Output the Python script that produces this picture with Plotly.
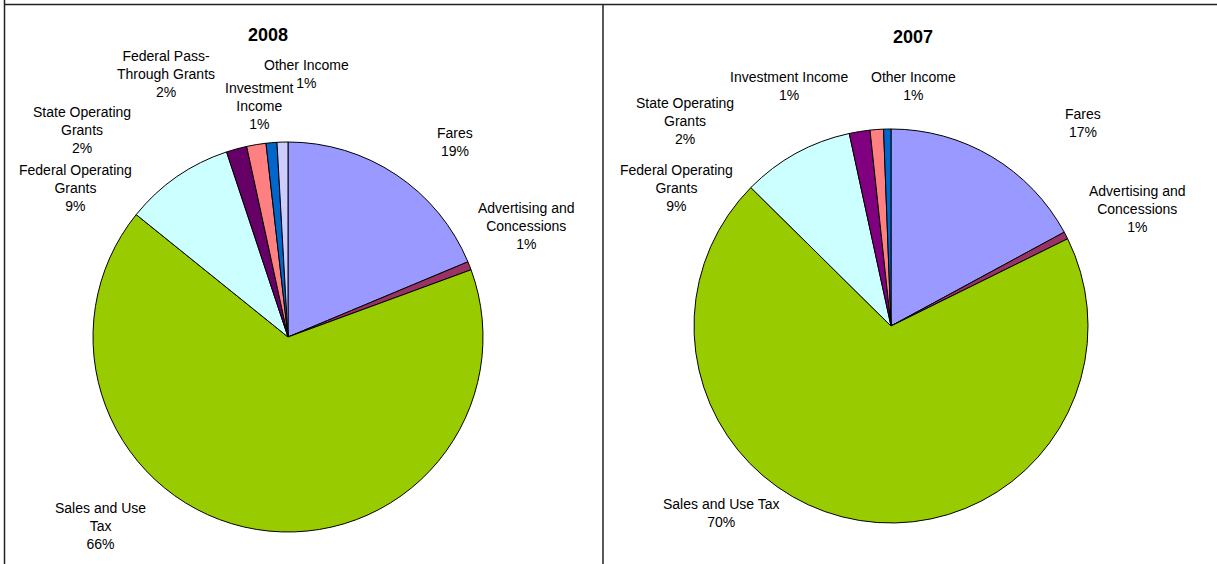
import plotly.graph_objects as go

W, H = 1217, 564

# ---------------- data ----------------
labels_2008 = ["Fares", "Advertising and Concessions", "Sales and Use Tax",
               "Federal Operating Grants", "State Operating Grants",
               "Federal Pass-Through Grants", "Investment Income", "Other Income"]
values_2008 = [18.7, 0.7, 66.4, 9.1, 1.7, 1.6, 0.9, 0.9]
colors_2008 = ["#9999FF", "#993366", "#99CC00", "#CCFFFF", "#660066",
               "#FF8080", "#0066CC", "#CCCCFF"]

labels_2007 = ["Fares", "Advertising and Concessions", "Sales and Use Tax",
               "Federal Operating Grants", "State Operating Grants",
               "Investment Income", "Other Income"]
values_2007 = [17.1, 0.6, 69.7, 9.2, 1.7, 1.1, 0.6]
colors_2007 = ["#9999FF", "#993366", "#99CC00", "#CCFFFF", "#800080",
               "#FF8080", "#0066CC"]

# label text wrapping (display text) for each slice
wrap_2008 = ["Fares", "Advertising and<br>Concessions", "Sales and Use<br>Tax",
             "Federal Operating<br>Grants", "State Operating<br>Grants",
             "Federal Pass-<br>Through Grants", "Investment<br>Income", "Other Income"]
wrap_2007 = ["Fares", "Advertising and<br>Concessions", "Sales and Use Tax",
             "Federal Operating<br>Grants", "State Operating<br>Grants",
             "Investment Income", "Other Income"]

# ---------------- layout helpers (pixel positions) ----------------
pos_2008 = [(455, 142), (526, 226), (100, 526), (75, 188), (82, 130),
            (166, 74), (259, 106), (306, 74)]
pos_2007 = [(1083, 123), (1137, 209), (721, 513), (676, 188), (685, 121),
            (789, 86), (913, 86)]


def px(x):
    return x / W


def py(y):
    return 1 - y / H


def pct(v, total):
    return f"{round(v / total * 100 + 1e-9):d}%"


fig = go.Figure()

# 2008 pie: center (288, 337), r 195
fig.add_trace(go.Pie(
    labels=labels_2008, values=values_2008, sort=False, direction="clockwise",
    rotation=0, textinfo="none", hoverinfo="label+percent",
    marker=dict(colors=colors_2008, line=dict(color="#000000", width=1)),
    domain=dict(x=[px(288 - 195), px(288 + 195)], y=[py(337 + 195), py(337 - 195)]),
    showlegend=False,
))
# 2007 pie: center (891, 326), r 197
fig.add_trace(go.Pie(
    labels=labels_2007, values=values_2007, sort=False, direction="clockwise",
    rotation=0, textinfo="none", hoverinfo="label+percent",
    marker=dict(colors=colors_2007, line=dict(color="#000000", width=1)),
    domain=dict(x=[px(891 - 197), px(891 + 197)], y=[py(326 + 197), py(326 - 197)]),
    showlegend=False,
))

annotations = []
font = dict(family="Liberation Sans, Arial, sans-serif", size=14, color="#000000")
tot08 = sum(values_2008)
tot07 = sum(values_2007)
for t, v, (x, y) in zip(wrap_2008, values_2008, pos_2008):
    annotations.append(dict(x=px(x), y=py(y), xref="paper", yref="paper",
                            text=f"{t}<br>{pct(v, tot08)}", showarrow=False,
                            xanchor="center", yanchor="middle", align="center", font=font))
for t, v, (x, y) in zip(wrap_2007, values_2007, pos_2007):
    annotations.append(dict(x=px(x), y=py(y), xref="paper", yref="paper",
                            text=f"{t}<br>{pct(v, tot07)}", showarrow=False,
                            xanchor="center", yanchor="middle", align="center", font=font))

title_font = dict(family="Liberation Sans, Arial, sans-serif", size=18, color="#000000")
annotations.append(dict(x=px(268), y=py(35), xref="paper", yref="paper", text="<b>2008</b>",
                        showarrow=False, xanchor="center", yanchor="middle", font=title_font))
annotations.append(dict(x=px(913), y=py(37), xref="paper", yref="paper", text="<b>2007</b>",
                        showarrow=False, xanchor="center", yanchor="middle", font=title_font))

line = dict(color="#222222", width=1.5)
shapes = [
    dict(type="line", xref="paper", yref="paper", x0=px(4.5), x1=px(4.5), y0=1, y1=0, line=line),
    dict(type="line", xref="paper", yref="paper", x0=px(4.5), x1=1, y0=py(4.5), y1=py(4.5), line=line),
    dict(type="line", xref="paper", yref="paper", x0=px(603), x1=px(603), y0=py(4.5), y1=0, line=line),
]

fig.update_layout(
    width=W, height=H, margin=dict(l=0, r=0, t=0, b=0),
    paper_bgcolor="#FFFFFF", plot_bgcolor="#FFFFFF",
    annotations=annotations, shapes=shapes,
)

fig.write_html("out.html")
